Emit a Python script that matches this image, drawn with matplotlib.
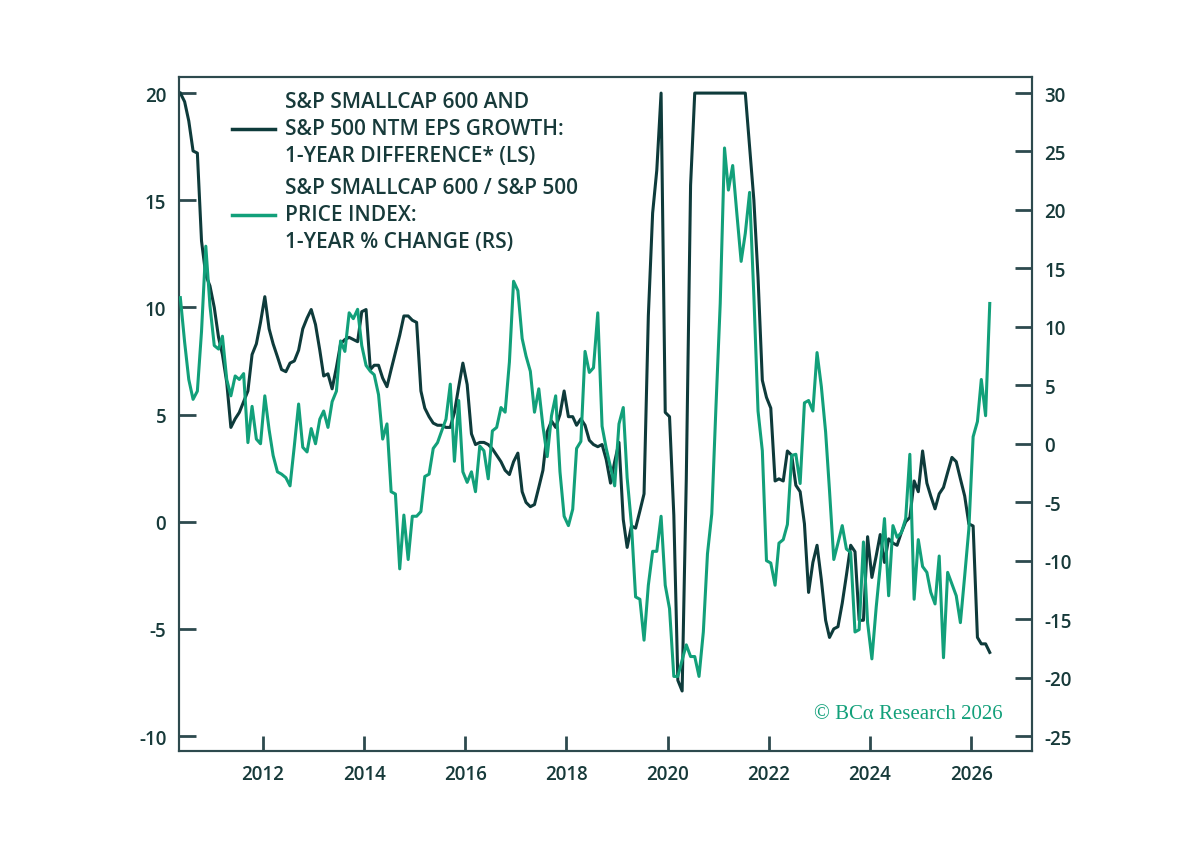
import numpy as np
import pandas as pd
import matplotlib
matplotlib.use('Agg')
import matplotlib.pyplot as plt
from matplotlib.lines import Line2D

# monthly data, May 2010 - May 2026
eps_diff = [
    20.0, 19.6, 18.7, 17.3, 17.2, 13.1, 11.5, 11.0, 10.0, 8.6,
    7.8, 6.5, 4.4, 4.8, 5.1, 5.6, 6.1, 7.8, 8.3, 9.3,
    10.5, 9.0, 8.3, 7.7, 7.1, 7.0, 7.4, 7.5, 8.0, 9.0,
    9.5, 9.9, 9.2, 8.0, 6.8, 6.9, 6.2, 7.2, 8.3, 8.5,
    8.6, 8.5, 8.4, 9.8, 9.9, 7.1, 7.3, 7.3, 6.7, 6.3,
    7.1, 7.9, 8.7, 9.6, 9.6, 9.4, 9.3, 6.1, 5.3, 4.9,
    4.6, 4.5, 4.5, 4.4, 4.4, 5.1, 6.3, 7.4, 6.4, 4.1,
    3.6, 3.7, 3.7, 3.6, 3.4, 3.1, 2.8, 2.4, 2.2, 2.8,
    3.2, 1.4, 0.9, 0.7, 0.8, 1.6, 2.4, 4.2, 4.7, 4.4,
    5.0, 6.1, 4.9, 4.9, 4.5, 4.8, 4.5, 3.8, 3.6, 3.5,
    3.6, 2.9, 1.8, 2.8, 3.7, 0.1, -1.2, -0.2, -0.3, 0.5,
    1.3, 9.6, 14.4, 16.4, 20.0, 5.1, 4.9, 0.3, -7.4, -7.9,
    2.0, 15.7, 20.0, 20.0, 20.0, 20.0, 20.0, 20.0, 20.0, 20.0,
    20.0, 20.0, 20.0, 20.0, 20.0, 17.5, 15.0, 11.4, 6.6, 5.8,
    5.3, 1.9, 2.0, 1.9, 3.3, 3.1, 1.7, 1.4, -0.1, -3.3,
    -1.9, -1.1, -2.7, -4.6, -5.4, -5.0, -4.9, -3.8, -2.5, -1.1,
    -1.4, -4.6, -4.6, -0.7, -2.6, -1.6, -0.6, -1.9, -0.8, -1.0,
    -1.1, -0.5, 0.0, 0.2, 1.9, 1.4, 3.3, 1.8, 1.2, 0.6,
    1.3, 1.6, 2.3, 3.0, 2.8, 2.0, 1.2, -0.1, -0.2, -5.4,
    -5.7, -5.7, -6.1,
]

price_chg = [
    12.5, 8.7, 5.5, 3.8, 4.5, 9.6, 16.9, 11.8, 8.4, 8.1,
    9.2, 5.5, 4.1, 5.8, 5.5, 6.0, 0.1, 3.2, 0.4, 0.0,
    4.1, 1.2, -1.0, -2.4, -2.6, -2.9, -3.6, -0.2, 3.4, -0.3,
    -0.7, 1.3, 0.0, 2.1, 2.8, 1.4, 3.6, 4.5, 8.8, 7.9,
    11.2, 10.7, 11.5, 8.4, 6.7, 6.2, 5.9, 4.2, 0.4, 1.7,
    -4.1, -4.3, -10.7, -6.1, -9.9, -6.2, -6.2, -5.8, -2.8, -2.6,
    -0.4, 0.1, 1.1, 2.1, 5.1, -1.5, 3.7, -2.4, -3.3, -2.4,
    -4.1, -0.2, -0.6, -3.0, 1.1, 1.4, 3.1, 2.7, 7.0, 13.9,
    13.1, 9.0, 7.5, 6.2, 2.7, 4.7, 1.5, -1.1, 2.4, 4.1,
    -2.4, -6.2, -7.0, -5.6, -0.4, 0.2, 7.9, 6.1, 6.5, 11.2,
    1.5, -0.4, -2.0, -3.6, 1.7, 3.1, -2.9, -6.9, -13.1, -13.3,
    -16.8, -12.1, -9.2, -9.2, -6.2, -12.1, -14.1, -19.9, -19.9, -18.5,
    -17.2, -18.2, -18.2, -19.9, -16.1, -9.4, -6.0, 3.1, 12.0, 25.3,
    21.7, 23.8, 19.7, 15.6, 18.0, 21.5, 12.6, 2.8, -0.6, -10.0,
    -10.2, -12.1, -8.5, -8.2, -6.9, -1.0, -0.9, -3.4, 3.5, 3.7,
    2.8, 7.8, 4.9, 1.0, -4.0, -9.9, -8.5, -7.0, -9.0, -9.3,
    -16.1, -15.9, -8.4, -15.3, -18.4, -14.0, -10.5, -6.4, -13.0, -7.0,
    -8.0, -7.6, -6.4, -0.9, -13.3, -8.2, -10.5, -11.0, -12.7, -13.7,
    -9.6, -18.3, -11.0, -12.0, -13.0, -15.3, -11.3, -7.3, 0.6, 1.9,
    5.5, 2.4, 12.0,
]

dates = pd.date_range('2010-05-01', periods=len(eps_diff), freq='MS') + pd.Timedelta(days=14)

left_ticks = [-10, -5, 0, 5, 10, 15, 20]
right_ticks = [-25, -20, -15, -10, -5, 0, 5, 10, 15, 20, 25, 30]
year_ticks = [2012, 2014, 2016, 2018, 2020, 2022, 2024, 2026]

label_eps = 'S&P SMALLCAP 600 AND\nS&P 500 NTM EPS GROWTH:\n1-YEAR DIFFERENCE* (LS)'
label_price = 'S&P SMALLCAP 600 / S&P 500\nPRICE INDEX:\n1-YEAR % CHANGE (RS)'

dark = '#0e3b3b'
green = '#12a07a'
axis_col = '#2d4a4e'
text_col = '#173a3a'

plt.rcParams['font.family'] = ['Open Sans', 'DejaVu Sans']

fig = plt.figure(figsize=(12, 8.62), dpi=100)
ax = fig.add_axes([0.149, 0.1276, 0.711, 0.7819])
ax2 = ax.twinx()

ax.plot(dates, eps_diff, color=dark, lw=2.2, zorder=3)
ax2.plot(dates, price_chg, color=green, lw=2.2, zorder=3)

ax.set_ylim(-10.7, 20.75)
ax2.set_ylim(-26.28, 31.37)
ax.set_xlim(pd.Timestamp('2010-05-04'), pd.Timestamp('2027-03-16'))

ax.set_yticks(left_ticks)
ax.set_yticklabels([str(t) for t in left_ticks])
ax2.set_yticks(right_ticks)
ax2.set_yticklabels([str(t) for t in right_ticks])
ax.set_xticks([pd.Timestamp(f'{y}-01-01') for y in year_ticks])
ax.set_xticklabels([str(y) for y in year_ticks])

for a in (ax, ax2):
    for s in a.spines.values():
        s.set_color(axis_col)
        s.set_linewidth(1.5)
    a.tick_params(axis='both', direction='in', length=12, width=2, color=axis_col,
                  labelsize=13.5, labelcolor=text_col, pad=9)
ax.tick_params(axis='x', length=11, pad=9)
for lab in ax.get_xticklabels() + ax.get_yticklabels() + ax2.get_yticklabels():
    lab.set_fontweight('semibold')

handles = [Line2D([], [], color=dark, lw=2.5), Line2D([], [], color=green, lw=2.5)]
leg = ax2.legend(handles, [label_eps, label_price], loc='upper left',
                 bbox_to_anchor=(0.062, 0.979), frameon=False, fontsize=15,
                 handlelength=2.1, handletextpad=0.45, labelspacing=0.5,
                 borderpad=0, borderaxespad=0)
for t in leg.get_texts():
    t.set_color(text_col)
    t.set_fontweight('semibold')
    t.set_linespacing(1.38)

ax2.text(0.965, 0.055, '\u00a9 BC\u03b1 Research 2026', transform=ax2.transAxes,
         ha='right', va='center', color=green, fontsize=15, family=['Liberation Serif', 'DejaVu Serif'])

fig.savefig('out.png', dpi=100, facecolor='white')
